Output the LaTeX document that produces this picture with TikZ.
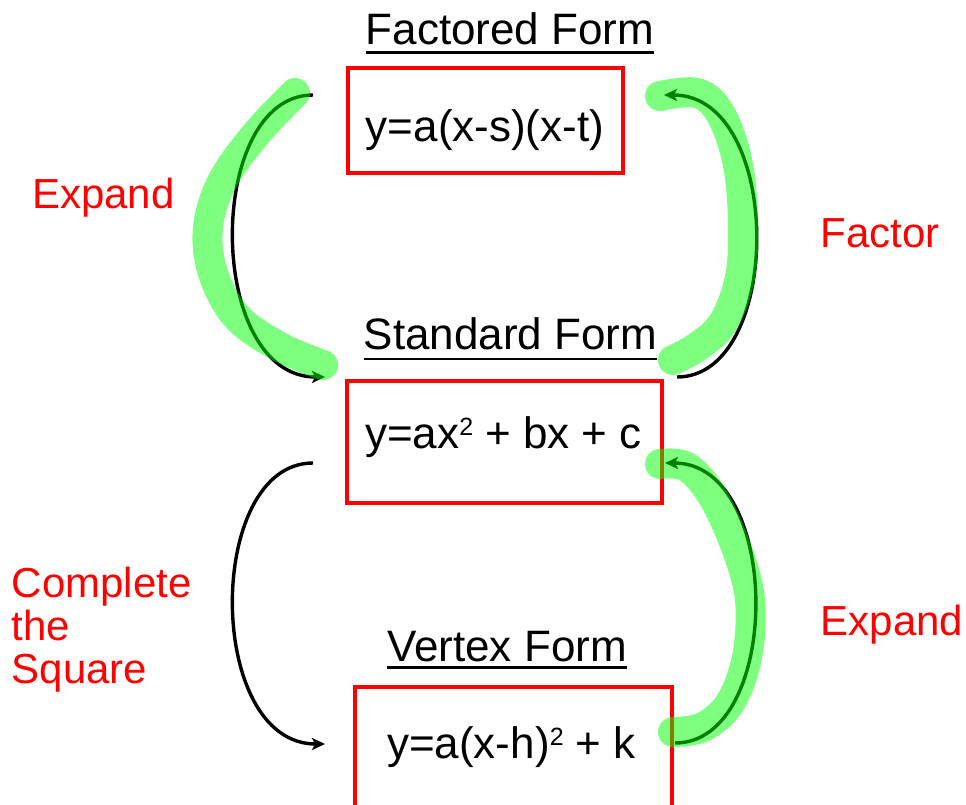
\documentclass[tikz,border=0pt]{standalone}
\usepackage{fontspec}
\setmainfont{Liberation Sans}
\usetikzlibrary{arrows.meta}
\newcommand{\sqtwo}{{\fontsize{25}{25}\selectfont\raisebox{13pt}{2}}}
\definecolor{hlgreen}{RGB}{0,255,0}
\begin{document}
\begin{tikzpicture}[x=1pt,y=-1pt,
  formbox/.style={draw=red,line width=3.6pt,inner sep=0pt},
  formula/.style={font=\fontsize{44}{44}\selectfont,inner sep=0pt,anchor=base},
  title/.style={font=\fontsize{44}{44}\selectfont,inner sep=0pt,anchor=base},
  uline/.style={line width=2.8pt},
  lbl/.style={text=red,font=\fontsize{42}{43}\selectfont,inner sep=0pt,align=left},
  conn/.style={line width=3.4pt,-{Stealth[length=13pt,width=12pt,inset=3pt]}},
  hl/.style={draw=hlgreen,draw opacity=0.5,line width=30pt,line cap=round,line join=round}]
\clip (0,0) rectangle (966,805);
\fill[white] (0,0) rectangle (966,805);

% titles
\node[title] (ftitle) at (510,45) {Factored Form};
\draw[uline] ([yshift=-7.5pt]ftitle.base west) -- ([yshift=-7.5pt]ftitle.base east);
\node[title] (stitle) at (510.5,349) {Standard Form};
\draw[uline] ([yshift=-10pt]stitle.base west) -- ([yshift=-10pt]stitle.base east);
\node[title] (vtitle) at (507,661) {Vertex Form};
\draw[uline] ([yshift=-6.5pt]vtitle.base west) -- ([yshift=-6.5pt]vtitle.base east);

% boxes
\node[formbox,minimum width=275pt,minimum height=105pt] (fact) at (485.5,120.5) {};
\node[formula] (factf) at (485,142) {y=a(x-s)(x-t)};
\node[formbox,minimum width=315pt,minimum height=122pt] (stand) at (504.5,442) {};
\node[formula] (standf) at (503.5,448) {y=ax\sqtwo{} + bx + c};
\node[formbox,minimum width=317pt,minimum height=150pt] (vert) at (513.5,762) {};
\node[formula] (vertf) at (511.5,758) {y=a(x-h)\sqtwo{} + k};

% labels
\node[lbl,anchor=base west] (lexp) at (32,208) {Expand};
\node[lbl,anchor=base west] (lfac) at (820.5,247) {Factor};
\node[lbl,anchor=base west] (lexp2) at (820.5,635) {Expand};
\node[lbl,anchor=north west] (lcts) at (11.5,566.5) {Complete\\the\\Square};

% connector end points
\coordinate (a1) at (313,95);  \coordinate (a2) at (325,377);
\coordinate (b1) at (677,377); \coordinate (b2) at (664,95);
\coordinate (c1) at (313,463); \coordinate (c2) at (325,744);
\coordinate (d1) at (675,743); \coordinate (d2) at (665,463);

% connectors
\draw[conn] (a1) .. controls (205,95) and (205,377) .. (a2);
\draw[conn] (b1) .. controls (784,377) and (784,95) .. (b2);
\draw[conn] (c1) .. controls (205,463) and (205,744) .. (c2);
\draw[conn] (d1) .. controls (783,743) and (783,463) .. (d2);

% highlighter strokes
\draw[hl] plot[smooth,tension=0.6] coordinates {(295,93) (257,133) (223,180) (208,227) (213,273) (237,317) (280,347) (323,365)};
\draw[hl] plot[smooth,tension=0.6] coordinates {(660,96) (697,93) (720,113) (737,160) (743,220) (740,277) (723,323) (697,347) (673,360)};
\draw[hl] plot[smooth,tension=0.6] coordinates {(660,464) (687,467) (713,497) (737,550) (750,600) (747,657) (730,703) (703,727) (673,732)};
\end{tikzpicture}
\end{document}
